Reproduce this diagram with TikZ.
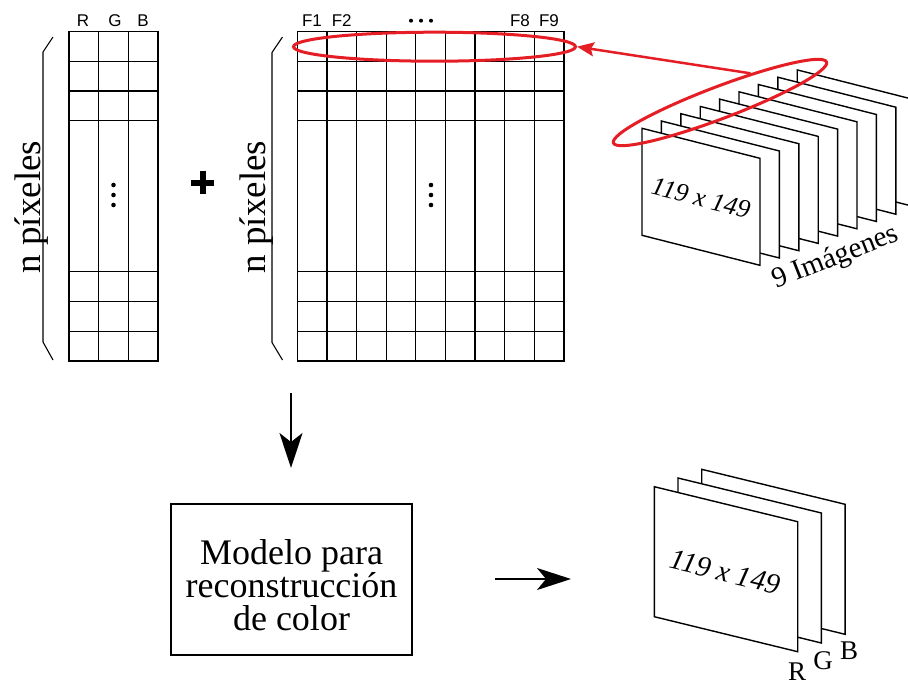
\documentclass[tikz,border=0pt]{standalone}
\usepackage{fontspec}
\setmainfont{Liberation Serif}
\newfontfamily\sansf{Liberation Sans}
\usetikzlibrary{arrows.meta,shapes.geometric}
\definecolor{redc}{RGB}{229,30,37}
\begin{document}
\begin{tikzpicture}[x=1pt,y=-1pt,
  grid/.style={line width=1.3pt},
  brace/.style={line width=1.1pt},
  sheet/.style={draw, fill=white, line width=1.4pt, line join=miter},
  lab/.style={font=\sansf\fontsize{17}{20}\selectfont, anchor=base, inner sep=0pt},
  big/.style={font=\fontsize{37}{40}\selectfont},
  dimtxt/.style={font=\fontsize{26}{30}\selectfont\itshape},
  redel/.style={ellipse, draw=redc, line width=3pt, inner sep=0pt},
  blk/.style={line width=2pt}]
\useasboundingbox (0,0) rectangle (908,681);
\clip (0,0) rectangle (908,681);
\fill[white] (0,0) rectangle (908,681);

% ---------- left matrix (RGB) ----------
\foreach \x in {98.67,128.33} \draw[grid] (\x,31.5) -- (\x,361);
\foreach \y in {61.25,91,120.75,271.75,301.5,331.25} \draw[grid] (69,\y) -- (158,\y);
\draw[grid] (69,31.5) rectangle (158,361);
\node[lab] (lr) at (83,26.7) {R};
\node[lab] (lg) at (115,26.7) {G};
\node[lab] (lb) at (143,26.7) {B};
\foreach \y in {185,195,205} \fill (113.5,\y) circle (2.3pt);
\draw[brace] (53,37) -- (43,52) -- (43,342) -- (53,360);
\node[big, rotate=90] (np1) at (31.5,207) {n píxeles};

% ---------- plus ----------
\draw[line width=6pt] (191,182.5) -- (214,182.5) (202.5,171) -- (202.5,194);

% ---------- right matrix (features) ----------
\foreach \i in {1,...,8} \draw[grid] ({297.3+\i*29.63},31.5) -- ({297.3+\i*29.63},361);
\foreach \y in {61.25,91,120.75,271.75,301.5,331.25} \draw[grid] (297.3,\y) -- (564,\y);
\draw[grid] (297.3,31.5) rectangle (564,361);
\node[lab] (f1) at (312,26.7) {F1};
\node[lab] (f2) at (341.7,26.7) {F2};
\node[lab] (f8) at (520,26.7) {F8};
\node[lab] (f9) at (549,26.7) {F9};
\foreach \x in {411,421,431} \fill (\x,20.7) circle (2pt);
\foreach \y in {185,195,205} \fill (431,\y) circle (2.3pt);
\draw[brace] (282.5,37) -- (272,52.5) -- (272,342.5) -- (282.5,360);
\node[big, rotate=90] (np2) at (256.5,207) {n píxeles};

% ---------- 9 images stack ----------
\foreach \k in {8,7,...,0}{
  \pgfmathsetmacro\xa{642+19.4*\k}
  \pgfmathsetmacro\ya{128.3-7.3*\k}
  \draw[sheet] (\xa,\ya) -- ++(118,30) -- ++(0,107) -- ++(-118,-30) -- cycle;
}
\node[dimtxt, rotate=-14.3] (t1) at (701,198) {119 x 149};
\node[font=\fontsize{29}{34}\selectfont, rotate=21.5] (nim) at (836,258) {9 Imágenes};

% ---------- red ellipses and arrow ----------
\node[redel, minimum width=282pt, minimum height=29pt] (e1) at (434.5,46.7) {};
\node[redel, minimum width=228pt, minimum height=32pt, rotate=20.8] (e2) at (720,102.5) {};
\draw[redc, line width=2.5pt, -{Stealth[length=17pt,width=14pt,inset=3pt]}] (e2.23) -- (e1.east);

% ---------- model box and arrows ----------
\coordinate (a1s) at (291,393);
\coordinate (a1e) at (291,468);
\draw[blk, -{Stealth[length=35pt,width=23pt,inset=9pt]}] (a1s) -- (a1e);
\node[draw, line width=1.2pt, minimum width=241pt, minimum height=151pt] (box) at (291.5,579.5) {};
\node[align=center, font=\fontsize{36}{33}\selectfont] (boxtxt) at (291.5,585)
      {Modelo para\\reconstrucción\\de color};
\coordinate (a2s) at (495,579);
\coordinate (a2e) at (571,579);
\draw[blk, -{Stealth[length=34pt,width=22pt,inset=9pt]}] (a2s) -- (a2e);

% ---------- RGB output stack ----------
\foreach \k in {2,1,0}{
  \pgfmathsetmacro\xa{654.3+23.7*\k}
  \pgfmathsetmacro\ya{486.7-8.7*\k}
  \draw[sheet] (\xa,\ya) -- ++(143.4,35) -- ++(0,130) -- ++(-143.4,-35) -- cycle;
}
\node[dimtxt, font=\fontsize{29}{34}\selectfont\itshape, rotate=-13.7] (t2) at (725,572) {119 x 149};
\node[font=\fontsize{27}{30}\selectfont] (or) at (797,672) {R};
\node[font=\fontsize{27}{30}\selectfont] (og) at (823,661) {G};
\node[font=\fontsize{27}{30}\selectfont] (ob) at (849,651) {B};
\end{tikzpicture}
\end{document}
